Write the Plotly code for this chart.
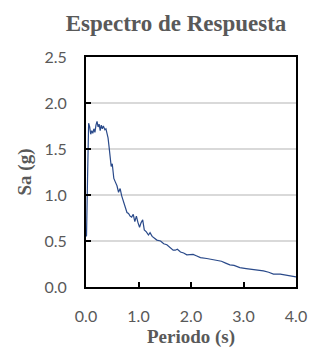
import plotly.graph_objects as go

periodo = [0.00, 0.01, 0.03, 0.05, 0.07, 0.09, 0.11, 0.13, 0.15, 0.17, 0.19, 0.21, 0.23, 0.25, 0.27, 0.29,
           0.31, 0.33, 0.36, 0.38, 0.40, 0.42, 0.44, 0.46, 0.48, 0.50, 0.53, 0.56, 0.59, 0.62,
           0.65, 0.68, 0.71, 0.75, 0.78, 0.81, 0.84, 0.87, 0.90, 0.93, 0.96, 0.99, 1.02, 1.05,
           1.08, 1.11, 1.15, 1.19, 1.22, 1.26, 1.30, 1.35, 1.42, 1.48, 1.54, 1.60, 1.66, 1.70,
           1.74, 1.80, 1.86, 1.92, 1.98, 2.04, 2.10, 2.18, 2.30, 2.40, 2.50, 2.58, 2.66, 2.74,
           2.82, 2.93, 3.05, 3.19, 3.28, 3.38, 3.48, 3.57, 3.70, 3.82, 3.92, 4.00]
sa = [0.55, 0.56, 1.20, 1.78, 1.74, 1.66, 1.70, 1.67, 1.72, 1.68, 1.76, 1.80, 1.74, 1.77, 1.70, 1.76,
      1.72, 1.75, 1.71, 1.72, 1.67, 1.62, 1.52, 1.42, 1.31, 1.34, 1.18, 1.14, 1.10, 1.03,
      1.07, 0.99, 0.93, 0.85, 0.81, 0.80, 0.77, 0.76, 0.79, 0.71, 0.77, 0.70, 0.65, 0.70,
      0.73, 0.62, 0.60, 0.565, 0.59, 0.55, 0.53, 0.51, 0.50, 0.47, 0.46, 0.43, 0.40, 0.40,
      0.41, 0.38, 0.37, 0.35, 0.35, 0.355, 0.34, 0.32, 0.31, 0.30, 0.29, 0.28, 0.26, 0.24,
      0.235, 0.21, 0.20, 0.19, 0.19, 0.175, 0.16, 0.14, 0.14, 0.13, 0.12, 0.11]

x_ticks = [0.0, 1.0, 2.0, 3.0, 4.0]
x_tick_labels = ["0.0", "1.0", "2.0", "3.0", "4.0"]
y_ticks = [0.0, 0.5, 1.0, 1.5, 2.0, 2.5]
y_tick_labels = ["0.0", "0.5", "1.0", "1.5", "2.0", "2.5"]

grey = "#595959"
fig = go.Figure()
fig.add_trace(go.Scatter(x=periodo, y=sa, mode="lines",
                         line=dict(color="#2a4a8a", width=1.2), showlegend=False))

fig.update_layout(
    width=321, height=351,
    margin=dict(l=86, r=25, t=57, b=64),
    paper_bgcolor="white", plot_bgcolor="white",
    title=dict(text="<b>Espectro de Respuesta</b>", x=176 / 321, xanchor="center",
               y=1 - 23 / 351, yanchor="middle", yref="container",
               font=dict(family="Liberation Serif", size=23, color=grey)),
    xaxis=dict(range=[0, 4], tickvals=x_ticks, ticktext=x_tick_labels,
               showgrid=False, zeroline=False, automargin=False,
               showline=True, linecolor="black", linewidth=2, mirror=True,
               ticks="inside", ticklen=5, tickcolor="black", tickwidth=1.5,
               ticklabelstandoff=14,
               tickfont=dict(family="Lato", size=16, color=grey),
               title=dict(text="<b>Periodo (s)</b>", standoff=5,
                          font=dict(family="Liberation Serif", size=19, color=grey))),
    yaxis=dict(range=[0, 2.5], tickvals=y_ticks, ticktext=y_tick_labels,
               showgrid=True, gridcolor="#d9d9d9", gridwidth=1.5, zeroline=False,
               automargin=False,
               showline=True, linecolor="black", linewidth=2, mirror=True,
               ticks="inside", ticklen=5, tickcolor="black", tickwidth=1.5,
               ticklabelstandoff=14,
               tickfont=dict(family="Lato", size=16, color=grey),
               title=dict(text="<b>Sa (g)</b>", standoff=8,
                          font=dict(family="Liberation Serif", size=19, color=grey))),
)

fig.write_html("out.html")
